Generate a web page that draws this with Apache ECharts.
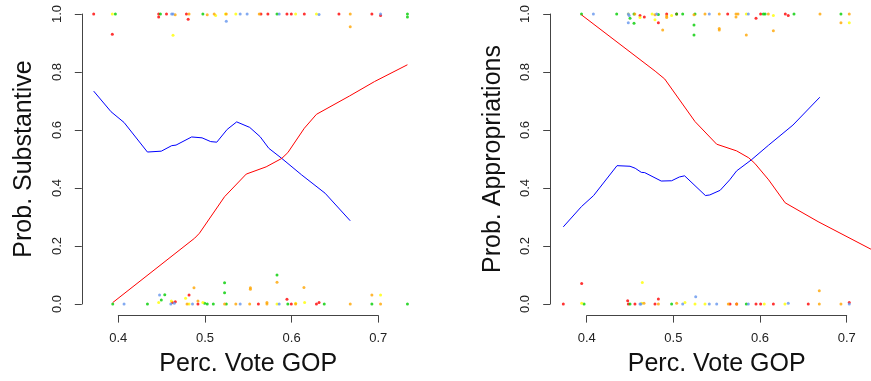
<!DOCTYPE html>
<html>
<head>
<meta charset="utf-8">
<script src="https://cdn.jsdelivr.net/npm/echarts@6/dist/echarts.min.js"></script>
<style>
html, body { margin: 0; padding: 0; background: #fff; }
#chart { width: 871px; height: 381px; }
</style>
</head>
<body>
<div id="chart"></div>
<script>
// fitted curves, [perc vote GOP, prob]
var subBlue = [[0.372,0.734],[0.392,0.663],[0.407,0.626],[0.434,0.524],[0.450,0.527],[0.462,0.546],[0.467,0.548],
    [0.485,0.576],[0.497,0.573],[0.507,0.560],[0.514,0.558],[0.526,0.602],[0.537,0.628],[0.552,0.609],[0.564,0.577],
    [0.574,0.537],[0.589,0.502],[0.612,0.445],[0.639,0.382],[0.668,0.287]];
var subRed = [[0.394,0.005],[0.4885,0.227],[0.494,0.244],[0.523,0.370],[0.548,0.448],[0.571,0.473],[0.589,0.502],
    [0.596,0.522],[0.615,0.606],[0.629,0.654],[0.667,0.717],[0.696,0.767],[0.734,0.825]];
var appBlue = [[0.373,0.266],[0.394,0.336],[0.408,0.374],[0.435,0.477],[0.450,0.475],[0.456,0.468],[0.463,0.454],
    [0.467,0.453],[0.486,0.424],[0.498,0.425],[0.507,0.438],[0.513,0.442],[0.537,0.374],[0.542,0.376],[0.554,0.392],
    [0.565,0.428],[0.573,0.459],[0.590,0.497],[0.610,0.548],[0.638,0.617],[0.669,0.713]];
var appRed = [[0.394,0.997],[0.479,0.803],[0.490,0.776],[0.525,0.629],[0.550,0.551],[0.573,0.528],[0.587,0.504],
    [0.594,0.485],[0.610,0.428],[0.629,0.349],[0.667,0.284],[0.728,0.189],[0.735,0.178]];

// observed outcomes (jittered), Substantive panel
var subPtsRed = [[0.372,1],[0.3935,0.93],[0.447,1],[0.447,0.99],[0.456,1],[0.479,1],[0.481,0.982],[0.565,1],[0.573,1],
    [0.595,1],[0.600,1],[0.615,1],[0.655,1],[0.693,1],[0.703,0.995],
    [0.4628,0.005],[0.4662,0.008],[0.482,0.031],[0.4923,0],[0.562,0],[0.595,0.016],[0.600,0],[0.629,0],[0.632,0.005]];
var subPtsGreen = [[0.397,1],[0.449,1],[0.498,1],[0.5835,1],[0.734,1],[0.734,0.99],
    [0.394,0],[0.434,0],[0.450,0.014],[0.454,0.032],[0.500,0.003],[0.503,0],[0.510,0],[0.523,0.073],[0.523,0.039],
    [0.525,0],[0.5835,0.1],[0.596,0],[0.638,0],[0.693,0],[0.734,0]];
var subPtsYellow = [[0.3935,1],[0.4635,0.927],[0.5127,0.995],[0.524,1],[0.536,1],[0.605,1],[0.629,1],
    [0.447,0.005],[0.4616,0.01],[0.478,0.02],[0.482,0],[0.498,0.005],[0.5835,0],[0.605,0.003],[0.6154,0.005],[0.703,0.031]];
var subPtsOrange = [[0.466,0.997],[0.482,1],[0.503,0.997],[0.511,1],[0.525,1],[0.563,1],[0.668,1],[0.668,0.956],
    [0.4797,0],[0.4877,0.056],[0.4923,0.01],[0.523,0],[0.536,0],[0.5528,0.056],[0.5528,0.051],[0.552,0],[0.5719,0.005],
    [0.5719,0],[0.5835,0.075],[0.605,0],[0.6146,0.057],[0.668,0],[0.693,0.031],[0.703,0]];
var subPtsBlue = [[0.462,1],[0.4635,1],[0.525,0.975],[0.541,1],[0.549,1],[0.586,1],[0.632,0.998],[0.703,1],
    [0.407,0],[0.448,0.031],[0.461,0],[0.465,0.003],[0.486,0],[0.541,0],[0.586,0]];

// observed outcomes (jittered), Appropriations panel
var appPtsRed = [[0.4615,0.995],[0.4665,0.99],[0.4827,0.97],[0.4923,1],[0.5038,1],[0.5627,1],[0.5954,0.985],[0.6007,1],
    [0.6292,1],[0.6326,0.995],
    [0.373,0],[0.3942,0.071],[0.4473,0.011],[0.448,0],[0.4557,0],[0.4788,0],[0.4827,0.017],[0.5654,0],[0.5731,0],
    [0.5954,0],[0.6007,0],[0.6154,0],[0.6557,0],[0.703,0.005]];
var appPtsGreen = [[0.394,1],[0.4346,1],[0.45,0.985],[0.4546,0.968],[0.4546,1],[0.4827,0.998],[0.5038,1],[0.5108,1],
    [0.525,1],[0.5238,0.962],[0.5238,0.928],[0.6038,1],[0.6058,1],[0.6392,1],[0.6934,1],
    [0.397,0],[0.45,0],[0.498,0],[0.5842,0]];
var appPtsYellow = [[0.448,1],[0.4615,0.988],[0.4788,0.98],[0.4755,1],[0.498,0.995],[0.5842,1],[0.6154,0.995],[0.703,0.97],
    [0.3942,0.003],[0.4635,0.003],[0.4642,0.074],[0.5134,0.005],[0.525,0],[0.5365,0],[0.6049,0],[0.6288,0]];
var appPtsOrange = [[0.4555,1],[0.4788,0.997],[0.4877,0.945],[0.4923,0.993],[0.4923,0.988],[0.5238,0.997],[0.5365,1],
    [0.553,1],[0.553,0.95],[0.553,0.945],[0.5723,1],[0.5723,0.99],[0.5746,1],[0.5842,0.928],[0.6096,1],[0.6154,0.942],
    [0.6692,1],[0.6934,0.97],[0.703,1],
    [0.4661,0.003],[0.4827,0],[0.5038,0.003],[0.5634,0],[0.5731,0],[0.6684,0],[0.6684,0.046],[0.6934,0]];
var appPtsBlue = [[0.4077,1],[0.448,1],[0.449,0.995],[0.448,0.97],[0.4808,1],[0.5415,1],[0.5865,1],
    [0.4615,0],[0.4625,0],[0.5108,0],[0.5258,0.025],[0.5415,0],[0.55,0],[0.5865,0],[0.6326,0.003],[0.703,0]];

var xTitle = 'Perc. Vote GOP';
var yTitles = ['Prob. Substantive', 'Prob. Appropriations'];

var fontFam = '"Liberation Sans", Arial, Helvetica, sans-serif';
var axisCol = '#444';

// grids 0,1 = R-style axes (tick range only), grids 2,3 = full plot region holding the data
function xAx(i) {
    return {
        gridIndex: i, type: 'value', min: 0.4, max: 0.7, interval: 0.1, offset: 11.6,
        name: xTitle, nameLocation: 'middle', nameGap: 36,
        nameTextStyle: { fontSize: 25, color: '#111', fontFamily: fontFam },
        axisLine: { show: true, onZero: false, lineStyle: { color: axisCol, width: 1 } },
        axisTick: { show: true, length: 7, lineStyle: { color: axisCol } },
        axisLabel: { fontSize: 13, color: '#222', fontFamily: fontFam, margin: 16,
            formatter: function (v) { return v.toFixed(1); } },
        splitLine: { show: false }
    };
}

function yAx(i) {
    return {
        gridIndex: i, type: 'value', min: 0, max: 1, interval: 0.2, offset: 36.5,
        name: yTitles[i], nameLocation: 'middle', nameGap: 45,
        nameTextStyle: { fontSize: 25, color: '#111', fontFamily: fontFam },
        axisLine: { show: true, onZero: false, lineStyle: { color: axisCol, width: 1 } },
        axisTick: { show: true, length: 7, lineStyle: { color: axisCol } },
        axisLabel: { fontSize: 13, color: '#222', fontFamily: fontFam, margin: 18, rotate: 90,
            formatter: function (v) { return v.toFixed(1); } },
        splitLine: { show: false }
    };
}

function hidden(g, mn, mx) {
    return { gridIndex: g, type: 'value', min: mn, max: mx, show: false, splitLine: { show: false } };
}

function curve(data, col, i) {
    return { type: 'line', xAxisIndex: i, yAxisIndex: i, data: data, showSymbol: false,
        lineStyle: { color: col, width: 1 }, silent: true };
}

function pts(data, col, i) {
    return { type: 'scatter', xAxisIndex: i, yAxisIndex: i, data: data, symbol: 'circle',
        symbolSize: 3, itemStyle: { color: col }, silent: true };
}

var cRed = '#FF0000', cGreen = '#00CD00', cYellow = '#FFFF00', cOrange = '#FFA500', cBlue = '#6495ED';

var chart = echarts.init(document.getElementById('chart'));
chart.setOption({
    animation: false,
    backgroundColor: '#fff',
    grid: [
        { left: 118.3, top: 14, width: 260, height: 290, outerBoundsMode: 'none', containLabel: false },
        { left: 586.7, top: 14, width: 260, height: 290, outerBoundsMode: 'none', containLabel: false },
        { left: 82, top: 2.4, width: 339.3, height: 313.2, outerBoundsMode: 'none', containLabel: false },
        { left: 550, top: 2.4, width: 340, height: 313.2, outerBoundsMode: 'none', containLabel: false }
    ],
    xAxis: [xAx(0), xAx(1), hidden(2, 0.3585, 0.75), hidden(3, 0.35766, 0.75)],
    yAxis: [yAx(0), yAx(1), hidden(2, -0.04, 1.04), hidden(3, -0.04, 1.04)],
    series: [
        pts(subPtsRed, cRed, 2), pts(subPtsGreen, cGreen, 2), pts(subPtsYellow, cYellow, 2),
        pts(subPtsOrange, cOrange, 2), pts(subPtsBlue, cBlue, 2),
        curve(subBlue, '#0000FF', 2), curve(subRed, '#FF0000', 2),
        pts(appPtsRed, cRed, 3), pts(appPtsGreen, cGreen, 3), pts(appPtsYellow, cYellow, 3),
        pts(appPtsOrange, cOrange, 3), pts(appPtsBlue, cBlue, 3),
        curve(appRed, '#FF0000', 3), curve(appBlue, '#0000FF', 3)
    ]
});
</script>
</body>
</html>
